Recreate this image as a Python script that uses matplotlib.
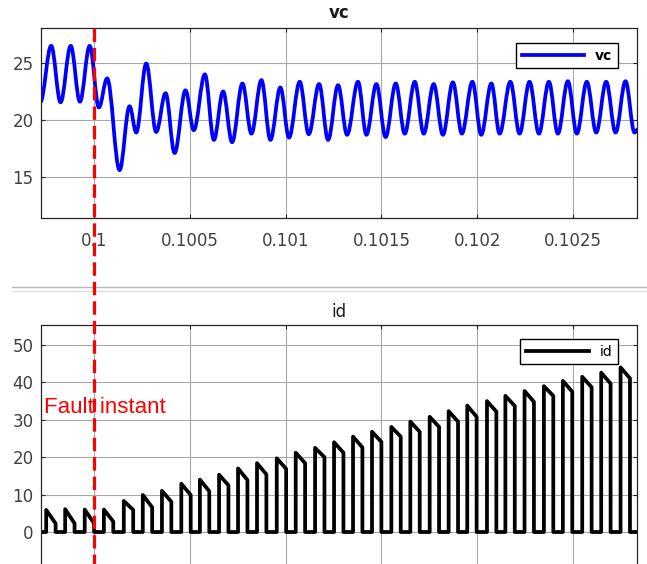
import matplotlib
matplotlib.use("Agg")
import matplotlib.pyplot as plt
from matplotlib.path import Path
from matplotlib.patches import PathPatch
from matplotlib.lines import Line2D
from matplotlib.transforms import blended_transform_factory

# ---- data ----
# vc: turning points (peaks / troughs) of the capacitor voltage
vc_t = [0.099720, 0.099777, 0.099826, 0.099879, 0.099927, 0.099978, 0.100026,
        0.100069, 0.100134, 0.100186, 0.100221, 0.100273, 0.100325, 0.100374,
        0.100421, 0.100478, 0.100521, 0.100579, 0.100626, 0.100674, 0.100721,
        0.100775, 0.100822, 0.100874, 0.100921, 0.100973, 0.101018, 0.101074,
        0.101121, 0.101175, 0.101222, 0.101274, 0.101321, 0.101378, 0.101422,
        0.101474, 0.101522, 0.101575, 0.101622, 0.101674, 0.101721, 0.101773,
        0.101821, 0.101873, 0.101920, 0.101975, 0.102021, 0.102074, 0.102117,
        0.102173, 0.102221, 0.102273, 0.102322, 0.102374, 0.102421, 0.102473,
        0.102520, 0.102572, 0.102621, 0.102673, 0.102722, 0.102774, 0.102821,
        0.102840]
vc_v = [21.55, 26.5, 21.55, 26.5, 21.6, 26.5, 21.1,
        23.65, 15.6, 21.2, 18.9, 24.95, 18.95, 22.35,
        17.1, 22.6, 19.1, 24.0, 18.25, 22.5, 18.05,
        23.2, 18.8, 23.5, 18.25, 22.85, 18.45, 23.35,
        18.75, 23.15, 18.25, 23.05, 18.7, 23.35, 18.7,
        23.15, 18.5, 23.2, 18.8, 23.35, 18.8, 23.15,
        18.7, 23.3, 18.8, 23.35, 18.7, 23.2, 18.8,
        23.35, 18.8, 23.35, 18.8, 23.35, 18.8, 23.4,
        18.8, 23.35, 18.9, 23.35, 18.9, 23.4, 18.9,
        19.2]

# id: current pulses (switch on time, switch off time, value at on, value at off)
id_on = [0.099751, 0.099850, 0.099952, 0.100052, 0.100156, 0.100255, 0.100355,
         0.100456, 0.100553, 0.100653, 0.100752, 0.100851, 0.100954, 0.101053,
         0.101154, 0.101253, 0.101352, 0.101451, 0.101552, 0.101651, 0.101752,
         0.101851, 0.101948, 0.102051, 0.102147, 0.102247, 0.102348, 0.102447,
         0.102548, 0.102647, 0.102748]
id_off = [0.099800, 0.099899, 0.100001, 0.100101, 0.100205, 0.100304, 0.100404,
          0.100505, 0.100602, 0.100702, 0.100801, 0.100900, 0.101003, 0.101102,
          0.101203, 0.101302, 0.101401, 0.101500, 0.101601, 0.101700, 0.101801,
          0.101900, 0.101997, 0.102100, 0.102196, 0.102296, 0.102397, 0.102496,
          0.102597, 0.102696, 0.102797]
id_peak = [5.9, 6.1, 6.0, 6.0, 8.3, 9.9, 11.0, 12.9, 14.0, 15.3, 17.0, 18.4,
           19.7, 21.2, 22.5, 24.0, 25.5, 26.8, 28.1, 29.5, 30.8, 32.3, 33.8,
           35.0, 36.4, 37.7, 39.0, 40.4, 41.5, 42.6, 44.0]
id_end = [2.3, 2.3, 2.3, 2.8, 5.9, 6.6, 8.1, 9.9, 10.9, 12.5, 13.9, 15.4,
          16.9, 18.4, 20.0, 21.2, 22.6, 24.1, 25.5, 26.8, 28.1, 29.5, 30.8,
          32.2, 33.7, 34.8, 36.4, 37.5, 38.7, 39.7, 41.1]

fault_t = 0.1
x_ticks = [0.1, 0.1005, 0.101, 0.1015, 0.102, 0.1025]
x_labels = ["0.1", "0.1005", "0.101", "0.1015", "0.102", "0.1025"]
vc_yticks = [15, 20, 25]
id_yticks = [0, 10, 20, 30, 40, 50]
t_min, t_max = 0.099724, 0.102834

# ---- style ----
plt.rcParams["font.family"] = ["DejaVu Sans"]
GRID = "#a8a8a8"
SPINE = "#262626"
TICKTXT = "#404040"


def style_axes(ax, yticks):
    ax.set_xlim(t_min, t_max)
    ax.set_xticks(x_ticks)
    ax.set_yticks(yticks)
    ax.grid(True, color=GRID, lw=0.8)
    ax.set_axisbelow(True)
    for s in ax.spines.values():
        s.set_color(SPINE)
        s.set_linewidth(0.9)
    ax.tick_params(direction="in", length=3, top=True, right=True,
                   colors=SPINE, labelcolor=TICKTXT, labelsize=12)
    ax.tick_params(axis="x", pad=10)
    ax.tick_params(axis="y", pad=5.5)


def smooth_path(ts, vs, k=0.3634):
    # cubic bezier between turning points, flat tangent at each peak/trough
    verts = [(ts[0], vs[0])]
    codes = [Path.MOVETO]
    for i in range(1, len(ts)):
        dt = ts[i] - ts[i - 1]
        verts += [(ts[i - 1] + k * dt, vs[i - 1]), (ts[i] - k * dt, vs[i]), (ts[i], vs[i])]
        codes += [Path.CURVE4] * 3
    return Path(verts, codes)


fig = plt.figure(figsize=(6.47, 5.64), dpi=100)
ax1 = fig.add_axes([0.0634, 0.6135, 0.9212, 0.3369])
ax2 = fig.add_axes([0.0634, -0.0096, 0.9212, 0.4334])

# --- vc ---
style_axes(ax1, vc_yticks)
ax1.set_ylim(11.4, 28.07)
ax1.set_xticklabels(x_labels)
ax1.add_patch(PathPatch(smooth_path(vc_t, vc_v), fill=False, edgecolor="#0000ff",
                        lw=2.7, capstyle="round", joinstyle="round"))
ax1.set_title("vc", fontsize=12, fontweight="bold", pad=7, color="#1a1a1a")
leg1 = ax1.legend([Line2D([], [], color="#0000ff", lw=2.7)], ["vc"],
                  loc="upper right", bbox_to_anchor=(0.968, 0.921), borderaxespad=0,
                  handlelength=4.5, fancybox=False, framealpha=1,
                  prop={"size": 10, "weight": "bold"})
leg1.get_frame().set_edgecolor("black")
leg1.get_frame().set_linewidth(1.0)

# --- id ---
style_axes(ax2, id_yticks)
ax2.set_ylim(-10, 55.35)
ax2.set_xticklabels([])
xs, ys = [t_min], [0]
for on, off, pk, en in zip(id_on, id_off, id_peak, id_end):
    xs += [on, on, off, off]
    ys += [0, pk, en, 0]
xs.append(t_max)
ys.append(0)
ax2.plot(xs, ys, color="black", lw=2.7, label="id")
ax2.set_title("id", fontsize=12, pad=5.8, color="#1a1a1a")
leg2 = ax2.legend(loc="upper right", bbox_to_anchor=(0.968, 0.9427), borderaxespad=0,
                  handlelength=4.5, fancybox=False, framealpha=1, prop={"size": 10})
leg2.get_frame().set_edgecolor("black")
leg2.get_frame().set_linewidth(1.0)
ax2.text(0.099739, 33.4, "Fault instant", color="red", fontsize=16,
         family="Liberation Sans", ha="left", va="center")

# separator lines between the two scope panes
fig.add_artist(Line2D([12 / 647, 1], [1 - 287 / 564] * 2, color="#b8b8b8", lw=1.0,
                      transform=fig.transFigure))
fig.add_artist(Line2D([12 / 647, 1], [1 - 291 / 564] * 2, color="#dedede", lw=1.0,
                      transform=fig.transFigure))

# fault marker across both panes
trans = blended_transform_factory(ax1.transData, fig.transFigure)
fig.add_artist(Line2D([fault_t, fault_t], [1 - 28 / 564, 0], color="red", lw=2.3,
                      linestyle=(0, (4.2, 1.9)), transform=trans, zorder=10))

fig.savefig("out.png", dpi=100)
